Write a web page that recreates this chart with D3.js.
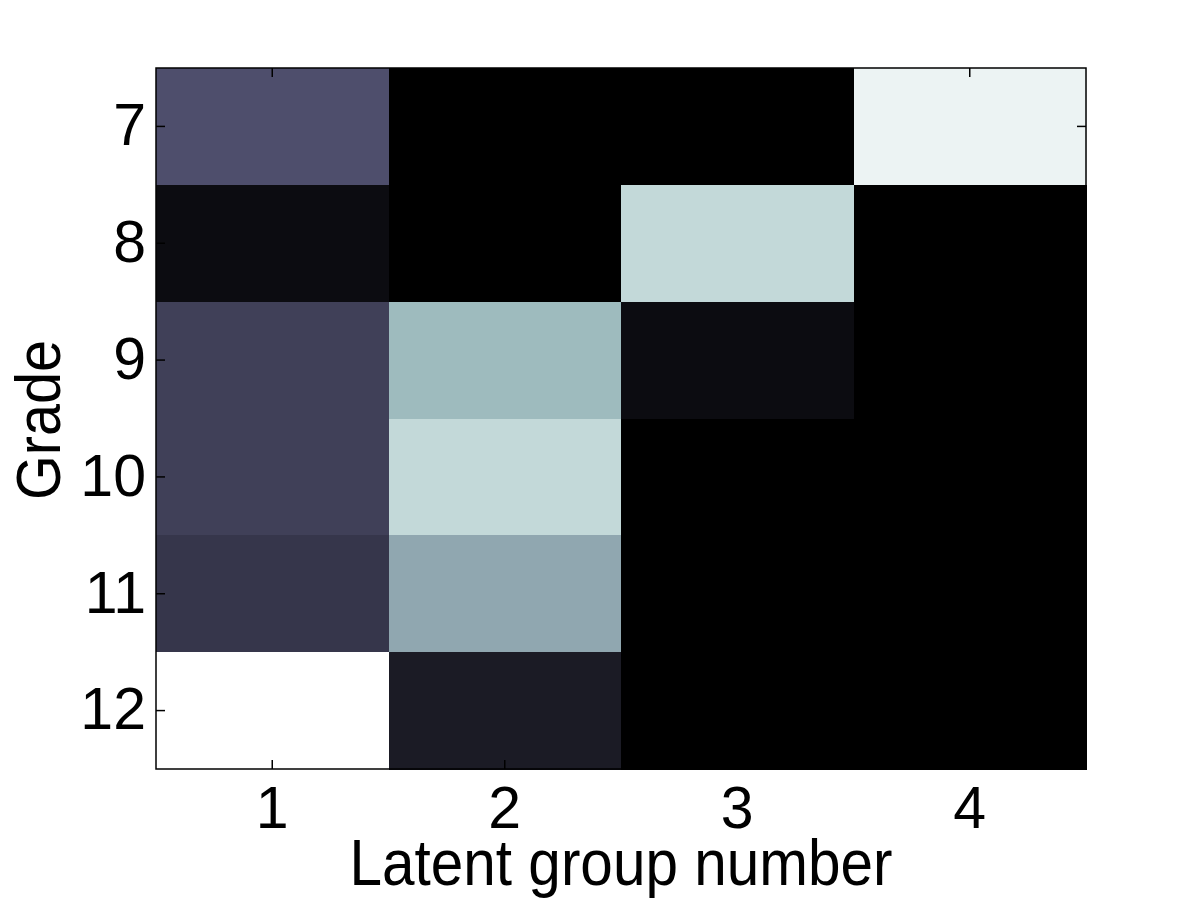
<!DOCTYPE html>
<html><head><meta charset="utf-8">
<script src="https://cdn.jsdelivr.net/npm/d3@7"></script>
<style>body{margin:0;background:#fff}svg{display:block}</style>
</head><body>
<script>
const groups = ["1","2","3","4"];
const grades = ["7","8","9","10","11","12"];
// rows = grades, columns = latent groups (normalized intensity 0..1)
const valuesG7  = [0.35, 0.0, 0.0, 0.946];
const valuesG8  = [0.054, 0.0, 0.83, 0.0];
const valuesG9  = [0.287, 0.709, 0.055, 0.0];
const valuesG10 = [0.287, 0.83, 0.0, 0.0];
const valuesG11 = [0.242, 0.646, 0.0, 0.0];
const valuesG12 = [1.0, 0.12, 0.0, 0.0];
const rows = [valuesG7, valuesG8, valuesG9, valuesG10, valuesG11, valuesG12];

const W = 1200, H = 900;
const m = {left:156, top:68, right:1200-1086, bottom:900-769};
const svg = d3.select("body").append("svg").attr("width",W).attr("height",H);

const x = d3.scaleBand().domain(groups).range([m.left, W-m.right]).padding(0);
const y = d3.scaleBand().domain(grades).range([m.top, H-m.bottom]).padding(0);

function clamp(v){return Math.max(0,Math.min(1,v));}
function bone(v){
  const hr = clamp(v/(3/8)), hg = clamp((v-3/8)/(3/8)), hb = clamp((v-6/8)/(2/8));
  const r = (7*v+hb)/8, g = (7*v+hg)/8, b = (7*v+hr)/8;
  return d3.rgb(r*255,g*255,b*255).toString();
}

const cells = [];
rows.forEach((row,i)=>row.forEach((v,j)=>cells.push({g:groups[j], gr:grades[i], v})));
svg.append("g").selectAll("rect").data(cells).join("rect")
  .attr("x",d=>x(d.g)).attr("y",d=>y(d.gr))
  .attr("width",x.bandwidth()+0.5).attr("height",y.bandwidth()+0.5)
  .attr("fill",d=>bone(d.v)).attr("shape-rendering","crispEdges");

const font = "'Liberation Sans', Arial, Helvetica, sans-serif";
const tickLen = 9;
const xb = svg.append("g").attr("transform",`translate(0,${H-m.bottom})`)
  .call(d3.axisBottom(x).tickSize(-tickLen).tickPadding(17).tickSizeOuter(0));
const xt = svg.append("g").attr("transform",`translate(0,${m.top})`)
  .call(d3.axisTop(x).tickSize(-tickLen).tickFormat("").tickSizeOuter(0));
const yl = svg.append("g").attr("transform",`translate(${m.left},0)`)
  .call(d3.axisLeft(y).tickSize(-tickLen).tickPadding(10).tickSizeOuter(0));
const yr = svg.append("g").attr("transform",`translate(${W-m.right},0)`)
  .call(d3.axisRight(y).tickSize(-tickLen).tickFormat("").tickSizeOuter(0));
[xb,xt,yl,yr].forEach(a=>{
  a.selectAll(".domain").remove();
  a.selectAll("line").attr("stroke","#000").attr("stroke-width",1.5);
  a.selectAll("text").attr("font-family",font).attr("font-size",59).attr("fill","#000");
});
svg.append("rect").attr("x",m.left).attr("y",m.top)
  .attr("width",W-m.left-m.right).attr("height",H-m.top-m.bottom)
  .attr("fill","none").attr("stroke","#000").attr("stroke-width",1.5);

svg.append("text").attr("x",(m.left+W-m.right)/2).attr("y",885)
  .attr("text-anchor","middle").attr("font-family",font).attr("font-size",65)
  .attr("textLength",543).attr("lengthAdjust","spacingAndGlyphs")
  .text("Latent group number");
svg.append("text").attr("transform",`translate(60,420) rotate(-90)`)
  .attr("text-anchor","middle").attr("font-family",font).attr("font-size",63)
  .attr("textLength",160).attr("lengthAdjust","spacingAndGlyphs")
  .text("Grade");
</script>
</body></html>
